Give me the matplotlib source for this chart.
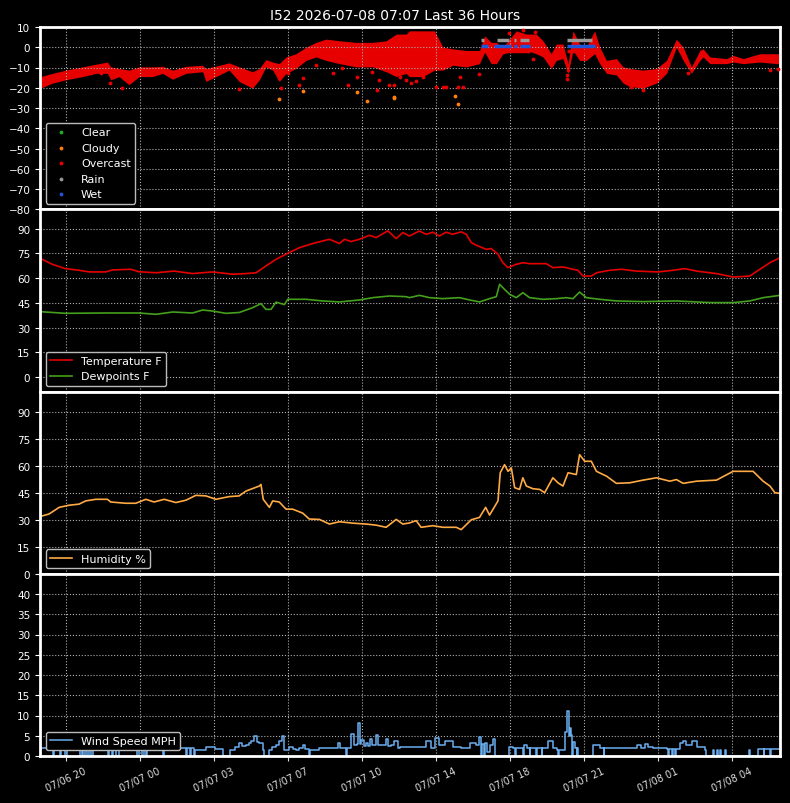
import matplotlib
matplotlib.use("Agg")
import matplotlib.pyplot as plt
import matplotlib.dates as mdates
import pandas as pd

# hours after the window start (2026-07-06 19:07)
start = pd.Timestamp("2026-07-06 19:07")
end = pd.Timestamp("2026-07-08 07:07")
title = "I52 2026-07-08 07:07 Last 36 Hours"
tick_times = ["2026-07-06 20:24", "2026-07-07 00:00", "2026-07-07 03:36", "2026-07-07 07:12",
              "2026-07-07 10:48", "2026-07-07 14:24", "2026-07-07 18:00", "2026-07-07 21:36",
              "2026-07-08 01:12", "2026-07-08 04:48"]

# sky reading band (overcast), low / high envelope of the dense points
sky_t = [0.03, 0.6, 1.25, 2.06, 2.71, 3.28, 3.44, 3.85, 4.33, 4.82, 5.47, 5.96, 6.45, 7.1, 7.91,
         8.07, 8.72, 9.2, 9.69, 10.34, 10.67, 10.99, 11.32, 11.64, 11.97, 12.45, 12.94, 13.43, 13.91,
         14.57, 15.38, 16.19, 16.84, 17.33, 17.81, 17.97, 18.62, 19.19, 19.6, 20.08, 20.74, 21.38,
         21.63, 21.95, 22.2, 22.52, 23.17, 23.66, 24.14, 24.47, 24.87, 25.12, 25.44, 25.69, 25.93,
         26.25, 26.58, 26.98, 27.23, 27.56, 28.04, 28.37, 28.69, 29.34, 29.99, 30.48, 30.96, 31.29,
         31.69, 32.1, 32.26, 32.59, 33.4, 33.72, 34.21, 35.02, 35.83, 36.0]
sky_hi = [-14.5, -12.9, -11.3, -9.7, -8.4, -7.3, -9.7, -10.5, -11.3, -9.7, -9.7, -9.4, -11.3, -9.4, -8.9,
          -10.5, -8.9, -7.7, -9.7, -12.1, -10.5, -6.1, -7.3, -8.1, -4.8, -3.2, 0.0, 2.4, 4.0,
          3.2, 2.4, 2.4, 3.2, 6.5, 6.5, 8.1, 8.1, 8.1, 0.0, -0.8, -1.6, -1.6,
          5.6, 2.4, 2.4, 0.0, 8.1, 6.5, 6.5, 3.2, -3.2, 1.6, 1.6, -8.1, 8.1,
          1.6, 0.0, 8.1, 0.0, -6.5, -5.6, -9.7, -10.5, -11.3, -10.5, -6.5, 4.0, 0.0,
          -9.7, -1.6, -0.8, -4.8, -5.6, -4.0, -5.6, -3.2, -3.2, -3.2]
sky_lo = [-20.2, -17.7, -16.1, -14.5, -12.9, -12.9, -16.1, -14.5, -18.5, -14.5, -14.5, -12.9, -15.8, -12.9, -12.1,
          -16.9, -13.7, -11.3, -16.9, -20.2, -16.1, -9.7, -11.3, -16.9, -12.9, -10.5, -6.5, -4.8, -6.5,
          -8.1, -9.7, -9.7, -12.1, -14.5, -12.9, -14.5, -14.5, -11.3, -11.3, -8.9, -9.7, -8.1,
          -2.4, -8.1, -8.1, -3.2, -1.6, -1.6, -3.2, -4.8, -10.5, -6.5, -5.6, -12.9, -1.6,
          -6.5, -6.5, -3.2, -8.1, -12.9, -13.7, -17.7, -19.4, -20.2, -17.7, -12.9, 0.0, -6.5,
          -12.9, -6.5, -4.8, -8.1, -8.1, -7.3, -8.1, -7.3, -8.1, -8.1]

overcast_pts = [(2.47, -12.9), (2.95, -12.6), (3.39, -17.7), (4.01, -20.2), (9.66, -20.5),
                (11.64, -15.3), (11.72, -20.2), (12.05, -12.9), (12.58, -18.5), (12.78, -15.3),
                (13.43, -8.9), (14.27, -12.9), (14.68, -10.0), (15.0, -18.5), (15.41, -14.5),
                (16.14, -12.1), (16.38, -21.0), (16.51, -16.1), (17.0, -18.5), (17.24, -18.5),
                (17.49, -14.5), (17.81, -16.1), (18.05, -17.7), (18.3, -16.9), (18.62, -14.5),
                (19.27, -19.7), (19.6, -19.8), (19.76, -19.8), (20.33, -19.8), (20.41, -14.5),
                (20.6, -19.8), (21.35, -13.2), (22.84, 6.8), (23.49, 8.4), (24.06, 7.3),
                (24.0, -5.6), (25.69, -11.3), (25.66, -13.7), (25.64, -15.6), (28.77, -19.4),
                (29.34, -21.0), (29.91, -16.9), (31.53, -12.9), (35.51, -11.3), (35.91, -10.5)]
cloudy_pts = [(11.64, -25.8), (12.8, -21.8), (15.41, -22.1), (15.9, -26.3), (17.24, -24.5),
              (17.2, -25.0), (20.17, -23.9), (20.33, -28.2)]

# rain / wet / overcast flag rows at the top of panel 1
rain_start = [21.43, 22.23, 23.04, 23.33, 25.64]
rain_end = [21.58, 22.84, 23.17, 23.79, 26.87]
wet_start = [21.43, 22.07, 23.04, 23.33, 25.64]
wet_end = [21.79, 22.93, 23.22, 23.85, 26.98]
over_start = [21.43, 25.64]
over_end = [23.85, 26.98]
rain_level, wet_level, over_level = 3.7, 0.8, -1.9

temp_t = [0.03, 0.6, 1.23, 1.9, 2.39, 3.2, 3.52, 4.42, 4.82, 5.64, 6.53, 7.42, 8.39, 9.37, 10.02,
          10.51, 10.99, 11.48, 12.05, 12.62, 13.26, 14.08, 14.57, 14.81, 15.13, 15.54, 16.03, 16.35,
          16.92, 17.33, 17.65, 17.97, 18.46, 18.79, 19.11, 19.43, 19.76, 20.08, 20.49, 20.74, 20.98,
          21.22, 21.71, 21.95, 22.28, 22.52, 22.76, 23.17, 23.49, 23.82, 24.63, 24.95, 25.44, 25.93,
          26.17, 26.41, 26.82, 27.07, 27.72, 28.29, 29.02, 30.07, 30.8, 31.37, 31.94, 32.91, 33.72,
          34.53, 35.02, 35.51, 36.0]
temp_v = [71.9, 68.4, 65.8, 64.8, 63.8, 63.8, 65.0, 65.4, 63.9, 63.3, 64.3, 62.8, 63.8, 62.4, 62.8,
          63.3, 67.4, 71.4, 75.1, 78.5, 81.0, 83.6, 81.0, 83.6, 82.2, 83.6, 86.0, 84.6,
          88.7, 84.0, 87.7, 85.6, 88.6, 86.6, 87.9, 85.6, 87.9, 86.6, 88.1, 86.6, 81.6,
          80.0, 77.5, 78.0, 74.5, 69.4, 66.4, 68.4, 69.4, 68.8, 68.8, 66.4, 66.8, 65.4,
          64.8, 61.3, 61.3, 63.3, 64.8, 65.4, 64.3, 63.8, 64.8, 65.8, 64.3, 62.8, 60.7,
          61.3, 65.4, 69.4, 72.4]

dew_t = [0.03, 1.23, 3.2, 4.82, 5.64, 6.46, 7.42, 7.91, 8.39, 9.04, 9.69, 10.34, 10.75, 10.99, 11.24,
         11.48, 11.89, 12.05, 12.94, 13.75, 14.57, 15.54, 16.19, 17.0, 17.81, 17.97, 18.46, 18.95,
         19.6, 20.41, 20.9, 21.38, 21.87, 22.2, 22.36, 22.6, 22.85, 23.17, 23.49, 23.82, 24.47,
         25.12, 25.6, 25.93, 26.25, 26.58, 27.23, 28.04, 29.34, 30.96, 32.59, 33.72, 34.53, 35.18, 36.0]
dew_v = [39.7, 38.7, 38.9, 38.9, 38.1, 39.5, 38.9, 40.7, 40.1, 38.7, 39.2, 42.1, 44.6, 41.1, 41.1,
         45.5, 44.0, 47.2, 47.2, 46.2, 45.6, 46.8, 48.2, 49.2, 48.8, 48.2, 49.6, 48.2,
         47.6, 48.2, 46.8, 45.6, 47.6, 48.8, 56.3, 53.2, 50.2, 48.2, 51.2, 48.2, 47.2,
         47.6, 48.2, 47.6, 51.6, 48.2, 47.2, 46.2, 45.8, 46.2, 45.2, 45.2, 46.2, 48.2, 49.6]

hum_t = [0.03, 0.44, 0.93, 1.41, 1.9, 2.22, 2.71, 3.28, 3.44, 4.17, 4.66, 5.15, 5.55, 6.04, 6.61,
         7.1, 7.58, 8.07, 8.56, 9.2, 9.69, 10.02, 10.67, 10.75, 10.86, 11.16, 11.32, 11.64, 11.97,
         12.29, 12.78, 13.1, 13.59, 14.08, 14.57, 15.22, 15.87, 16.35, 16.84, 17.33, 17.65, 17.97,
         18.3, 18.54, 19.11, 19.6, 20.25, 20.49, 20.66, 20.98, 21.38, 21.68, 21.87, 22.28, 22.39,
         22.6, 22.77, 22.93, 23.09, 23.33, 23.49, 23.66, 23.98, 24.31, 24.55, 24.95, 25.2, 25.44,
         25.69, 26.09, 26.25, 26.5, 26.82, 27.07, 27.56, 28.04, 28.69, 29.34, 29.99, 30.64, 30.96,
         31.29, 31.94, 32.91, 33.72, 34.69, 35.18, 35.51, 35.75, 36.0]
hum_v = [32.0, 33.3, 37.0, 38.2, 38.8, 40.6, 41.5, 41.5, 40.0, 39.3, 39.3, 41.5, 40.0, 41.5, 39.7,
         41.0, 43.7, 43.4, 41.5, 43.0, 43.4, 46.1, 48.9, 49.8, 41.5, 37.0, 40.6, 40.0, 36.0,
         36.0, 33.8, 30.5, 30.3, 27.7, 29.0, 28.2, 27.7, 27.1, 25.9, 30.3, 27.7, 28.3,
         29.6, 25.9, 26.8, 25.9, 25.9, 24.6, 26.5, 30.1, 31.4, 37.0, 32.7, 40.6, 56.3,
         60.8, 57.1, 59.0, 48.0, 47.0, 53.5, 48.9, 47.4, 47.0, 45.2, 53.5, 50.7, 48.9,
         56.3, 55.3, 66.4, 62.7, 62.7, 57.1, 54.4, 50.4, 50.7, 52.2, 53.5, 51.6, 52.5,
         50.4, 51.6, 52.2, 57.1, 57.1, 51.6, 48.9, 45.2, 44.8]

wind = [(0.0, 1.9), (0.62, 0), (0.70, 1.9), (0.95, 0), (1.00, 1.9), (1.20, 0), (1.30, 1.9),
        (1.95, 0), (2.02, 1.9), (2.10, 0), (2.18, 1.9), (2.30, 0), (2.38, 1.9), (2.50, 0),
        (2.58, 1.9), (3.30, 0), (3.38, 1.9), (3.50, 0), (3.56, 1.9), (3.70, 0), (3.85, 1.9),
        (4.30, 2.2), (4.50, 1.9), (4.72, 0), (4.80, 1.9), (4.95, 0), (5.05, 1.9), (5.15, 0),
        (5.22, 1.9), (5.96, 0), (6.02, 1.9), (6.37, 2.2), (6.60, 1.9), (7.10, 0), (7.15, 1.9),
        (7.30, 0), (7.35, 1.9), (7.50, 0), (7.55, 1.5), (8.07, 2.1), (8.50, 1.7), (8.90, 0),
        (9.25, 1.5), (9.50, 2.2), (9.69, 3.1), (9.85, 2.5), (10.02, 2.8), (10.15, 3.2), (10.26, 3.6),
        (10.42, 4.9), (10.55, 3.5), (10.67, 3.1), (10.85, 1.5), (10.91, 0), (11.15, 1.5),
        (11.30, 2.2), (11.48, 2.8), (11.64, 3.6), (11.77, 4.9), (11.88, 1.5), (12.13, 2.3),
        (12.30, 1.7), (12.45, 1.5), (12.60, 2.0), (12.78, 2.8), (12.90, 1.8), (13.08, 1.5),
        (13.10, 0), (13.15, 1.5), (13.59, 1.9), (14.24, 1.9), (14.48, 3.1), (14.60, 2.0),
        (14.81, 1.9), (14.87, 0), (14.93, 1.9), (15.13, 5.5), (15.29, 2.8), (15.42, 3.0),
        (15.49, 8.2), (15.55, 3.0), (15.62, 4.0), (15.75, 2.4), (15.86, 3.1), (15.95, 2.5),
        (16.03, 4.3), (16.15, 2.6), (16.35, 5.1), (16.45, 2.6), (16.60, 2.8), (16.84, 4.3),
        (16.95, 2.5), (17.08, 2.8), (17.24, 3.8), (17.40, 1.9), (17.49, 2.3), (18.46, 2.3),
        (18.79, 3.6), (19.03, 1.9), (19.24, 4.4), (19.43, 2.8), (19.68, 3.6), (20.08, 2.3),
        (20.49, 1.9), (20.90, 3.1), (21.22, 2.8), (21.38, 4.6), (21.45, 0), (21.50, 3.0),
        (21.60, 0), (21.65, 3.2), (21.75, 1.0), (21.87, 2.8), (22.03, 4.3), (22.12, 2.0),
        (22.15, 0), (22.84, 2.3), (23.00, 1.9), (23.09, 0), (23.14, 1.9), (23.40, 1.9),
        (23.50, 0), (23.54, 2.8), (23.70, 1.9), (23.82, 0), (23.86, 1.9), (24.14, 0),
        (24.18, 1.9), (24.40, 0), (24.44, 1.9), (24.71, 3.6), (24.95, 1.9), (25.15, 1.5),
        (25.20, 0), (25.25, 1.5), (25.52, 5.9), (25.65, 11.1), (25.72, 5.0), (25.77, 6.8),
        (25.85, 5.1), (25.90, 0), (25.95, 3.5), (26.01, 1.9), (26.10, 0), (26.14, 1.9),
        (26.17, 0), (26.90, 2.8), (27.23, 1.9), (27.42, 0), (27.46, 1.9), (28.85, 1.9),
        (29.02, 2.8), (29.25, 1.9), (29.42, 3.0), (29.60, 2.2), (29.82, 1.9), (30.48, 1.7),
        (30.56, 0), (30.60, 1.7), (30.75, 0), (30.79, 1.7), (30.88, 0), (30.92, 1.7),
        (31.13, 3.1), (31.29, 3.6), (31.45, 2.8), (31.70, 3.6), (31.94, 2.3), (32.34, 1.5),
        (32.39, 0), (32.75, 1.5), (32.79, 0), (32.94, 1.5), (32.98, 0), (33.10, 1.5),
        (33.14, 0), (33.32, 1.5), (33.36, 0), (34.50, 1.5), (34.54, 0), (34.94, 1.7),
        (35.20, 0), (35.24, 1.7), (35.50, 0), (35.54, 1.7), (36.0, 1.7)]

RED = "#e60000"


def hours(h):
    return start + pd.to_timedelta(list(h), unit="h")


def style_axis(ax, ylim, yticks):
    ax.set_facecolor("black")
    ax.set_ylim(*ylim)
    ax.set_yticks(yticks)
    ax.grid(True, linestyle=":", color="#b0b0b0", linewidth=0.8)
    for sp in ax.spines.values():
        sp.set_color("white")
        sp.set_linewidth(2)
    ax.tick_params(axis="y", labelsize=7.5, colors="white")
    ax.legend(loc="lower left", fontsize=8, facecolor="black", edgecolor="#bbbbbb",
              framealpha=1.0, labelcolor="white")


def main():
    plt.style.use("dark_background")
    fig, axes = plt.subplots(4, 1, sharex=True, figsize=(7.9, 8.04), dpi=100)
    fig.subplots_adjust(left=40 / 790, right=780 / 790, top=1 - 28 / 804,
                        bottom=1 - 757 / 804, hspace=0)
    fig.suptitle(title, fontsize=10, color="white", y=1 - 16 / 804, va="center")

    # panel 1: sky conditions
    ax = axes[0]
    ax.fill_between(hours(sky_t), sky_lo, sky_hi, color=RED, linewidth=0)
    ot, ov = zip(*overcast_pts)
    ax.scatter(hours(ot), ov, s=3, color=RED, zorder=3)
    ct, cv = zip(*cloudy_pts)
    ax.scatter(hours(ct), cv, s=3, color="#ff7f0e", zorder=3)
    ax.hlines([over_level] * len(over_start), hours(over_start), hours(over_end),
              color=RED, linewidth=2.5, zorder=4)
    ax.hlines([wet_level] * len(wet_start), hours(wet_start), hours(wet_end),
              color="#1f55d8", linewidth=2.5, zorder=4)
    ax.hlines([rain_level] * len(rain_start), hours(rain_start), hours(rain_end),
              color="#999999", linewidth=2.5, zorder=4)
    for lab, col in [("Clear", "#22aa22"), ("Cloudy", "#ff7f0e"), ("Overcast", RED),
                     ("Rain", "#999999"), ("Wet", "#1f55d8")]:
        ax.scatter([], [], s=3, color=col, label=lab)
    style_axis(ax, (-80, 10), range(-80, 11, 10))

    # panel 2: temperature and dewpoint
    ax = axes[1]
    ax.plot(hours(temp_t), temp_v, color=RED, linewidth=1.2, label="Temperature F")
    ax.plot(hours(dew_t), dew_v, color="#44a01c", linewidth=1.2, label="Dewpoints F")
    style_axis(ax, (-8.7, 101.8), range(0, 91, 15))

    # panel 3: humidity
    ax = axes[2]
    ax.plot(hours(hum_t), hum_v, color="#ffaa44", linewidth=1.2, label="Humidity %")
    style_axis(ax, (0, 101.6), range(0, 91, 15))

    # panel 4: wind
    ax = axes[3]
    wt, wv = zip(*wind)
    ax.plot(hours(wt), wv, color="#6aaef0", linewidth=1.1, drawstyle="steps-post",
            label="Wind Speed MPH")
    style_axis(ax, (0, 45), range(0, 41, 5))

    ax.set_xlim(start, end)
    ax.set_xticks(pd.to_datetime(tick_times))
    ax.xaxis.set_major_formatter(mdates.DateFormatter("%m/%d %H"))
    ax.tick_params(axis="x", labelsize=7, colors="#dddddd", labelrotation=25)
    for lbl in ax.get_xticklabels():
        lbl.set_ha("center")

    fig.savefig("out.png", dpi=100, facecolor="black")


if __name__ == "__main__":
    main()
